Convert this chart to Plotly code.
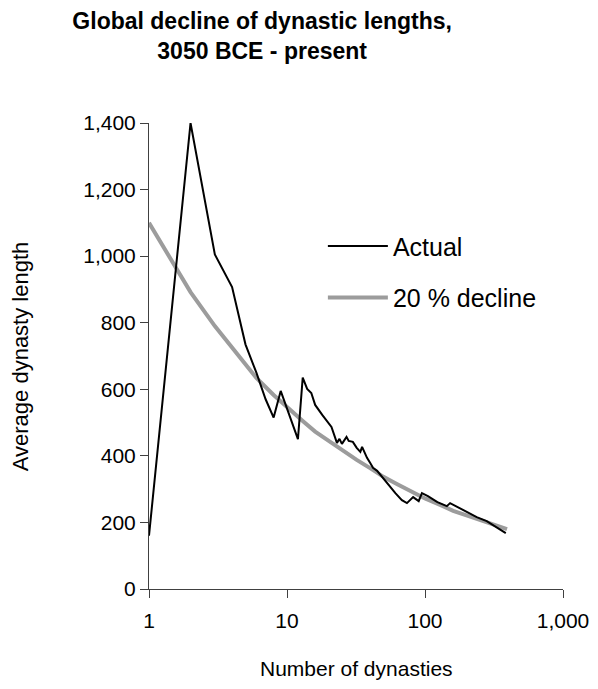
import plotly.graph_objects as go

# Actual average dynasty length
n_actual = [1, 2, 3, 4, 5, 6, 7, 8, 9, 10, 11, 12, 13, 14, 15, 16, 18, 20, 21, 23,
            24, 25, 27, 28, 30, 32, 34, 35, 38, 40, 42, 45, 47, 55, 61, 68, 74, 82,
            90, 95, 105, 123, 144, 152, 178, 211, 237, 280, 330, 385]
v_actual = [160, 1400, 1005, 907, 735, 650, 570, 515, 595, 540, 495, 450, 635, 601,
            589, 553, 523, 498, 487, 439, 451, 436, 457, 445, 442, 424, 412, 427,
            394, 379, 364, 355, 345, 312, 288, 267, 258, 276, 264, 288, 279, 261,
            249, 258, 243, 228, 216, 204, 186, 168]

# 20 % decline reference curve
n_decline = [1, 2, 3, 4, 5, 6, 8, 10, 13, 16, 20, 25, 32, 40, 50, 63, 80, 100,
             130, 160, 200, 250, 320, 393]
v_decline = [1100, 892, 790, 724, 675, 634, 583, 546, 505, 473, 446, 416, 388,
             363, 337, 315, 291, 272, 252, 235, 221, 207, 192, 180]

x_ticks = [1, 10, 100, 1000]
x_ticklabels = ["1", "10", "100", "1,000"]
y_ticks = [0, 200, 400, 600, 800, 1000, 1200, 1400]

FONT = "Liberation Sans, Arial, sans-serif"

fig = go.Figure()
fig.add_trace(go.Scatter(
    x=n_decline, y=v_decline, mode="lines", name="20 % decline",
    line=dict(color="#9c9c9c", width=4), legendgroup="b", legendrank=2,
))
fig.add_trace(go.Scatter(
    x=n_actual, y=v_actual, mode="lines", name="Actual",
    line=dict(color="black", width=2), legendgroup="a", legendrank=1,
))

fig.update_layout(
    width=598, height=689,
    margin=dict(l=141, r=43, t=115, b=108),
    paper_bgcolor="white", plot_bgcolor="white",
    font=dict(family=FONT, size=21, color="black"),
    title=dict(
        text="<b>Global decline of dynastic lengths,<br>3050 BCE - present</b>",
        x=0.425, xanchor="center", xref="container",
        y=0.9695, yanchor="top", yref="container",
        font=dict(family=FONT, size=23, color="black"),
    ),
    showlegend=True,
    legend=dict(
        x=0.42, y=0.785, xanchor="left", yanchor="top",
        bgcolor="rgba(0,0,0,0)", borderwidth=0,
        font=dict(family=FONT, size=25, color="black"),
        tracegroupgap=16, itemwidth=60,
    ),
    xaxis=dict(
        type="log", range=[0, 3],
        tickvals=x_ticks, ticktext=x_ticklabels,
        showgrid=False, zeroline=False,
        showline=True, linecolor="#404040", linewidth=1,
        ticks="outside", ticklen=8, tickcolor="#404040",
        tickfont=dict(family=FONT, size=21, color="black"),
        ticklabelstandoff=5,
        automargin=False,
    ),
    yaxis=dict(
        range=[0, 1400], tickvals=y_ticks, tickformat=",",
        showgrid=False, zeroline=False,
        showline=True, linecolor="#404040", linewidth=1,
        ticks="outside", ticklen=8, tickcolor="#404040",
        tickfont=dict(family=FONT, size=21, color="black"),
        automargin=False,
    ),
    annotations=[
        dict(text="Number of dynasties", xref="paper", yref="paper",
             x=0.5, y=-0.17, xanchor="center", yanchor="middle",
             showarrow=False, font=dict(family=FONT, size=21, color="black")),
        dict(text="Average dynasty length", xref="paper", yref="paper",
             x=-0.311, y=0.5, xanchor="center", yanchor="middle",
             textangle=-90, showarrow=False,
             font=dict(family=FONT, size=22, color="black")),
    ],
)

fig.write_html("out.html")
